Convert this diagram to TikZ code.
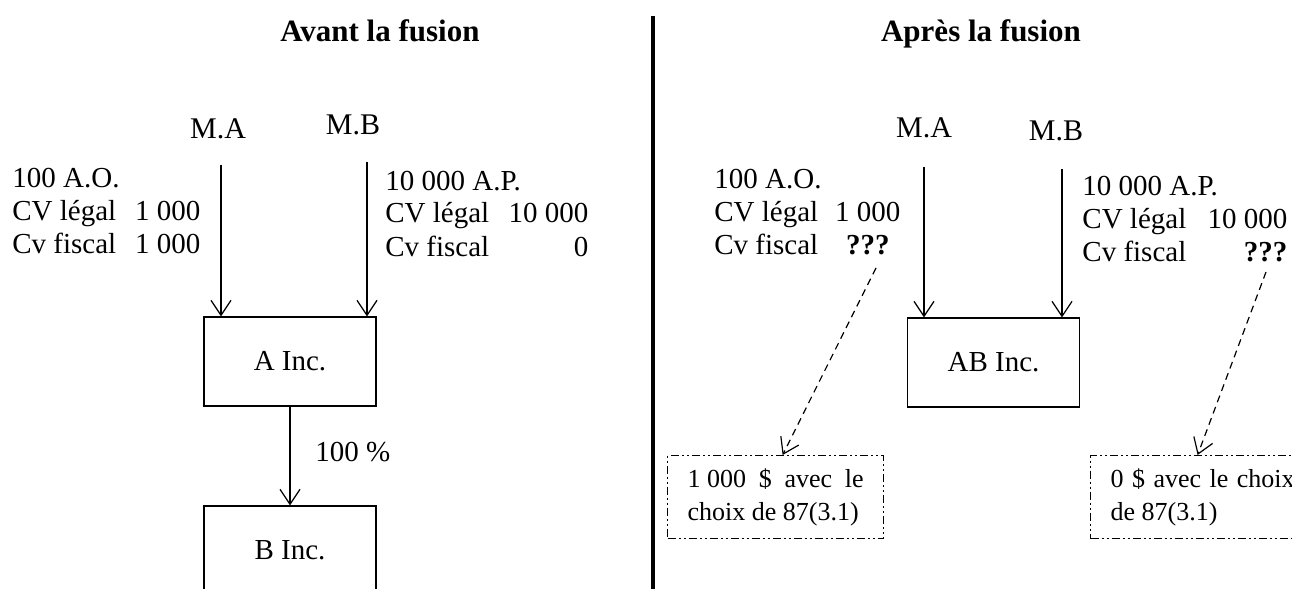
\documentclass[tikz,border=0pt]{standalone}
\usepackage{fontspec}
\setmainfont{Liberation Serif}
\usepackage{tikz}
\usetikzlibrary{arrows.meta,positioning,calc}

\begin{document}
\begin{tikzpicture}[x=0.5pt,y=-0.5pt,
  every node/.style={font=\fontsize{14.5}{16.5}\selectfont},
  titre/.style={font=\fontsize{15.5}{18}\selectfont\bfseries,anchor=base},
  actionnaire/.style={inner sep=0pt,font=\fontsize{15}{18}\selectfont},
  societe/.style={draw,line width=0.6pt,minimum width=86pt,minimum height=44.5pt,inner sep=0pt},
  fleche/.style={line width=0.6pt,-{Straight Barb[length=7.5pt,width=10pt]}},
  pointille/.style={fleche,dash pattern=on 3.5pt off 2.5pt},
  choix/.style={draw,line width=0.6pt,dash pattern=on 4pt off 1.5pt on 1pt off 1.5pt on 1pt off 1.5pt,
    font=\fontsize{13}{16.5}\selectfont,align=justify,inner xsep=10pt,minimum height=41.5pt,anchor=north west}]
\useasboundingbox (0,0) rectangle (1292,589);
\clip (0,0) rectangle (1292,589);

\node[titre] (avant) at (380,41) {Avant la fusion};
\node[titre] (apres) at (981,41) {Après la fusion};
\draw[line width=1.75pt] (653,16) -- (653,589);

% avant la fusion
\node[actionnaire] (maG) at (218,129) {M.A};
\node[actionnaire] (mbG) at (353,125) {M.B};
\node[societe] (aInc) at (290,361.5) {A Inc.};
\node[societe] (bInc) at (290,550.5) {B Inc.};
\node[anchor=base west,inner sep=0pt] (titresA) at (12,187)
{\begin{tabular*}{94pt}[t]{@{}l@{\extracolsep{\fill}}r@{}}
\multicolumn{2}{@{}l@{}}{100 A.O.}\\ CV légal & 1~000\\ Cv fiscal & 1~000
\end{tabular*}};
\node[anchor=base west,inner sep=0pt] (titresB) at (385,190)
{\begin{tabular*}{101.5pt}[t]{@{}l@{\extracolsep{\fill}}r@{}}
\multicolumn{2}{@{}l@{}}{10~000 A.P.}\\ CV légal & 10~000\\ Cv fiscal & 0
\end{tabular*}};
\draw[fleche,shorten <=12.5pt] ([xshift=1.5pt]maG.south) -- ([xshift=1.5pt]maG.south |- aInc.north);
\draw[fleche,shorten <=13.5pt] ([xshift=7pt]mbG.south) -- ([xshift=7pt]mbG.south |- aInc.north);
\draw[fleche] (aInc) -- node[right=9pt,pos=0.46] (pct) {100~\%} (bInc);

% apres la fusion
\node[actionnaire] (maD) at (924,128) {M.A};
\node[actionnaire] (mbD) at (1056,131) {M.B};
\node[societe] (abInc) at (993.5,362.5) {AB Inc.};
\node[anchor=base west,inner sep=0pt] (fusionA) at (714,188)
{\begin{tabular*}{93pt}[t]{@{}l@{\extracolsep{\fill}}c@{}}
\multicolumn{2}{@{}l@{}}{100 A.O.}\\ CV légal & 1~000\\ Cv fiscal & \textbf{???}
\end{tabular*}};
\node[anchor=base west,inner sep=0pt] (fusionB) at (1082,195)
{\begin{tabular*}{102.5pt}[t]{@{}l@{\extracolsep{\fill}}r@{}}
\multicolumn{2}{@{}l@{}}{10~000 A.P.}\\ CV légal & 10~000\\ Cv fiscal & \textbf{???}
\end{tabular*}};
\draw[fleche,shorten <=14pt] (maD.south) -- (maD.south |- abInc.north);
\draw[fleche,shorten <=14pt] ([xshift=3pt]mbD.south) -- ([xshift=3pt]mbD.south |- abInc.north);

\node[choix,text width=88pt] (noteA) at (667,455) {\mbox{1 000} \$ avec le choix de 87(3.1)};
\node[choix,text width=92pt] (noteB) at (1090,455) {0 \$ avec le choix de 87(3.1)};
\coordinate (qA) at (876,268);
\coordinate (qB) at (1266,272);
\draw[pointille] (qA) -- ([xshift=3.5pt]noteA.north);
\draw[pointille] (qB) -- ([xshift=-2.5pt]noteB.north);
\end{tikzpicture}
\end{document}
